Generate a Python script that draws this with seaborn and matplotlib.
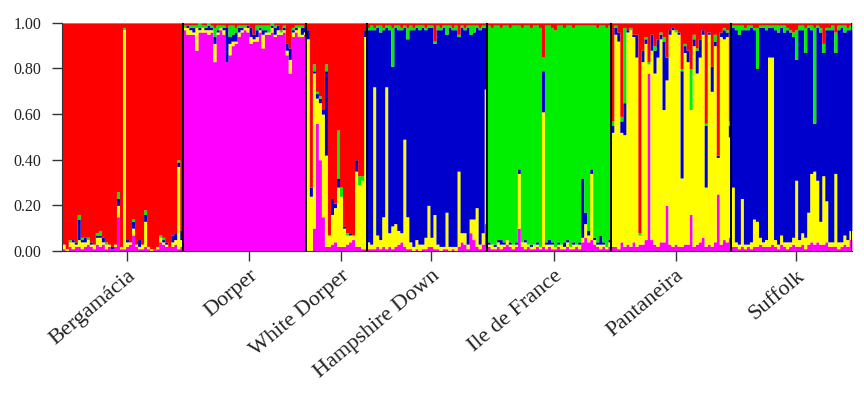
import pandas as pd
import matplotlib
matplotlib.use("Agg")
import matplotlib.pyplot as plt
import seaborn as sns

racas = ["Bergamácia", "Dorper", "White Dorper", "Hampshire Down",
         "Ile de France", "Pantaneira", "Suffolk"]

# clusters, de baixo para cima na pilha
clusters = ["magenta", "amarelo", "azul", "verde", "vermelho"]
cores = {"magenta": "#FF00FF", "amarelo": "#FFFF00", "azul": "#0000CD",
         "verde": "#00EE00", "vermelho": "#FF0000"}

# q de cada indivíduo: (magenta, amarelo, azul, verde, vermelho); None = restante
bergamacia = [
    (0.01, 0.02, 0.0, 0.0, None), (0.0, 0.01, 0.0, 0.0, None), (0.02, 0.02, 0.0, 0.01, None),
    (0.01, 0.03, 0.01, 0.0, None), (0.02, 0.01, 0.01, 0.0, None), (0.02, 0.03, 0.09, 0.02, None),
    (0.01, 0.03, 0.01, 0.01, None), (0.02, 0.02, 0.02, 0.0, None), (0.03, 0.02, 0.0, 0.01, None),
    (0.02, 0.01, 0.01, 0.0, None), (0.01, 0.02, 0.0, 0.0, None), (0.03, 0.03, 0.01, 0.01, None),
    (0.02, 0.04, 0.01, 0.02, None), (0.03, 0.01, 0.02, 0.0, None), (0.01, 0.02, 0.0, 0.01, None),
    (0.02, 0.01, 0.0, 0.0, None), (0.01, 0.0, 0.01, 0.0, None), (0.02, 0.01, 0.0, 0.0, None),
    (0.15, 0.05, 0.03, 0.03, None), (0.01, 0.01, 0.0, 0.0, None), (0.01, 0.96, 0.0, 0.01, None),
    (0.02, 0.02, 0.01, 0.0, None), (0.03, 0.01, 0.0, 0.0, None), (0.07, 0.03, 0.03, 0.01, None),
    (0.02, 0.01, 0.0, 0.0, None), (0.01, 0.01, 0.03, 0.0, None), (0.01, 0.02, 0.0, 0.0, None),
    (0.02, 0.11, 0.03, 0.02, None), (0.01, 0.01, 0.0, 0.0, None), (0.0, 0.01, 0.0, 0.0, None),
    (0.01, 0.0, 0.0, 0.0, None), (0.01, 0.01, 0.0, 0.0, None), (0.04, 0.02, 0.0, 0.01, None),
    (0.03, 0.01, 0.01, 0.01, None), (0.02, 0.01, 0.01, 0.0, None), (0.02, 0.0, 0.0, 0.0, None),
    (0.02, 0.02, 0.03, 0.0, None), (0.03, 0.02, 0.03, 0.0, None), (0.01, 0.36, 0.02, 0.01, None),
    (0.02, 0.03, 0.04, 0.0, None),
]

dorper = [
    (None, 0.01, 0.0, 0.01, 0.01), (None, 0.03, 0.01, 0.0, 0.01), (None, 0.02, 0.01, 0.01, 0.01),
    (None, 0.01, 0.02, 0.01, 0.01), (None, 0.10, 0.0, 0.01, 0.01), (None, 0.01, 0.01, 0.02, 0.0),
    (None, 0.02, 0.0, 0.01, 0.01), (None, 0.01, 0.01, 0.01, 0.01), (None, 0.02, 0.02, 0.01, 0.0),
    (None, 0.01, 0.01, 0.01, 0.01), (None, 0.08, 0.03, 0.04, 0.02), (None, 0.01, 0.01, 0.02, 0.01),
    (None, 0.01, 0.0, 0.01, 0.01), (None, 0.02, 0.01, 0.01, 0.01), (None, 0.0, 0.15, 0.0, 0.02),
    (None, 0.05, 0.03, 0.05, 0.01), (None, 0.02, 0.03, 0.04, 0.01), (None, 0.01, 0.04, 0.02, 0.02),
    (None, 0.02, 0.02, 0.01, 0.01), (None, 0.01, 0.01, 0.01, 0.01), (None, 0.01, 0.0, 0.01, 0.01),
    (None, 0.02, 0.01, 0.0, 0.01), (None, 0.03, 0.04, 0.0, 0.02), (None, 0.01, 0.02, 0.0, 0.05),
    (None, 0.02, 0.03, 0.02, 0.01), (None, 0.01, 0.01, 0.01, 0.01), (None, 0.06, 0.02, 0.02, 0.01),
    (None, 0.01, 0.01, 0.02, 0.01), (None, 0.01, 0.0, 0.03, 0.01), (None, 0.02, 0.01, 0.01, 0.0),
    (None, 0.01, 0.03, 0.01, 0.01), (None, 0.02, 0.02, 0.0, 0.01), (None, 0.01, 0.0, 0.01, 0.03),
    (None, 0.01, 0.01, 0.01, 0.01), (None, 0.02, 0.03, 0.0, 0.09), (None, 0.06, 0.05, 0.0, 0.11),
    (None, 0.02, 0.01, 0.01, 0.02), (None, 0.01, 0.01, 0.01, 0.01), (None, 0.04, 0.0, 0.01, 0.01),
    (None, 0.01, 0.03, 0.01, 0.01), (None, 0.01, 0.02, 0.0, 0.02),
]

white_dorper = [
    (0.0, 0.93, 0.04, 0.0, None), (0.0, 0.24, 0.04, 0.0, None), (0.10, 0.68, 0.01, 0.03, None),
    (0.56, 0.11, 0.02, 0.01, None), (0.40, 0.25, 0.02, 0.01, None), (0.15, 0.45, 0.02, 0.0, None),
    (0.02, 0.40, 0.37, 0.03, None), (0.02, 0.05, 0.0, 0.0, None), (0.03, 0.13, 0.07, 0.0, None),
    (0.04, 0.15, 0.02, 0.0, None), (0.02, 0.26, 0.04, 0.21, None), (0.02, 0.22, 0.0, 0.04, None),
    (0.02, 0.08, 0.01, 0.0, None), (0.03, 0.04, 0.0, 0.01, None), (0.04, 0.03, 0.01, 0.0, None),
    (0.05, 0.02, 0.0, 0.0, None), (0.02, 0.33, 0.05, 0.0, None), (0.02, 0.27, 0.0, 0.04, None),
    (0.01, 0.30, 0.0, 0.02, None), (0.01, 0.93, 0.03, 0.0, None),
]

hampshire = [
    (0.01, 0.03, None, 0.01, 0.02), (0.01, 0.02, None, 0.02, 0.01), (0.01, 0.71, None, 0.01, 0.02),
    (0.02, 0.05, None, 0.01, 0.01), (0.01, 0.04, None, 0.03, 0.01), (0.02, 0.13, None, 0.01, 0.02),
    (0.01, 0.71, None, 0.01, 0.01), (0.02, 0.06, None, 0.02, 0.01), (0.01, 0.10, None, 0.17, 0.02),
    (0.02, 0.10, None, 0.01, 0.01), (0.03, 0.06, None, 0.02, 0.01), (0.04, 0.04, None, 0.01, 0.02),
    (0.02, 0.47, None, 0.01, 0.01), (0.01, 0.14, None, 0.05, 0.02), (0.01, 0.03, None, 0.02, 0.01),
    (0.0, 0.02, None, 0.01, 0.02), (0.01, 0.04, None, 0.01, 0.01), (0.0, 0.03, None, 0.02, 0.01),
    (0.01, 0.02, None, 0.01, 0.01), (0.01, 0.05, None, 0.01, 0.02), (0.02, 0.18, None, 0.01, 0.01),
    (0.02, 0.04, None, 0.01, 0.01), (0.01, 0.15, None, 0.01, 0.08), (0.01, 0.02, None, 0.02, 0.01),
    (0.0, 0.02, None, 0.01, 0.02), (0.01, 0.01, None, 0.01, 0.01), (0.01, 0.16, None, 0.04, 0.01),
    (0.0, 0.02, None, 0.01, 0.01), (0.01, 0.01, None, 0.01, 0.02), (0.0, 0.02, None, 0.02, 0.01),
    (0.02, 0.33, None, 0.01, 0.05), (0.04, 0.04, None, 0.01, 0.01), (0.03, 0.05, None, 0.01, 0.02),
    (0.01, 0.02, None, 0.01, 0.01), (0.08, 0.06, None, 0.04, 0.01), (0.05, 0.09, None, 0.03, 0.01),
    (0.02, 0.17, None, 0.01, 0.01), (0.01, 0.02, None, 0.01, 0.02), (0.03, 0.05, None, 0.01, 0.01),
    (0.12, 0.59, None, 0.01, 0.01),
]

ile_de_france = [
    (0.02, 0.01, 0.01, None, 0.01), (0.01, 0.02, 0.0, None, 0.02), (0.01, 0.01, 0.01, None, 0.01),
    (0.02, 0.02, 0.01, None, 0.01), (0.01, 0.02, 0.02, None, 0.02), (0.02, 0.01, 0.01, None, 0.01),
    (0.03, 0.02, 0.0, None, 0.01), (0.02, 0.01, 0.01, None, 0.02), (0.01, 0.02, 0.0, None, 0.01),
    (0.02, 0.01, 0.01, None, 0.01), (0.10, 0.24, 0.02, None, 0.01), (0.02, 0.02, 0.0, None, 0.02),
    (0.01, 0.03, 0.01, None, 0.01), (0.02, 0.01, 0.0, None, 0.01), (0.01, 0.01, 0.01, None, 0.02),
    (0.01, 0.02, 0.0, None, 0.01), (0.02, 0.01, 0.01, None, 0.01), (0.01, 0.01, 0.0, None, 0.02),
    (0.02, 0.59, 0.18, None, 0.15), (0.01, 0.02, 0.01, None, 0.01), (0.02, 0.01, 0.02, None, 0.01),
    (0.01, 0.02, 0.01, None, 0.02), (0.01, 0.01, 0.0, None, 0.03), (0.02, 0.01, 0.01, None, 0.01),
    (0.01, 0.02, 0.0, None, 0.01), (0.01, 0.01, 0.02, None, 0.02), (0.02, 0.02, 0.01, None, 0.01),
    (0.01, 0.01, 0.0, None, 0.01), (0.01, 0.02, 0.01, None, 0.02), (0.02, 0.01, 0.0, None, 0.01),
    (0.01, 0.02, 0.01, None, 0.01), (0.04, 0.02, 0.26, None, 0.01), (0.06, 0.06, 0.05, None, 0.01),
    (0.04, 0.03, 0.02, None, 0.01), (0.05, 0.29, 0.02, None, 0.01), (0.03, 0.02, 0.01, None, 0.01),
    (0.02, 0.01, 0.01, None, 0.02), (0.01, 0.02, 0.04, None, 0.01), (0.02, 0.01, 0.01, None, 0.01),
    (0.01, 0.01, 0.0, None, 0.02), (0.02, 0.02, 0.01, None, 0.01),
]

pantaneira = [
    (0.02, None, 0.03, 0.02, 0.43), (0.02, None, 0.03, 0.01, 0.01), (0.01, None, 0.04, 0.0, 0.04),
    (0.04, None, 0.05, 0.02, 0.41), (0.02, None, 0.14, 0.33, 0.02), (0.03, None, 0.01, 0.0, 0.03),
    (0.02, None, 0.0, 0.01, 0.02), (0.04, None, 0.01, 0.0, 0.05), (0.02, None, 0.10, 0.0, 0.05),
    (0.03, None, 0.0, 0.01, 0.92), (0.03, None, 0.05, 0.0, 0.12), (0.05, None, 0.02, 0.01, 0.06),
    (0.78, None, 0.0, 0.01, 0.17), (0.05, None, 0.07, 0.0, 0.05), (0.03, None, 0.10, 0.02, 0.10),
    (0.02, None, 0.08, 0.0, 0.07), (0.04, None, 0.02, 0.01, 0.04), (0.04, None, 0.30, 0.02, 0.06),
    (0.20, None, 0.10, 0.0, 0.15), (0.03, None, 0.02, 0.0, 0.03), (0.02, None, 0.01, 0.0, 0.02),
    (0.03, None, 0.0, 0.01, 0.03), (0.02, None, 0.01, 0.0, 0.04), (0.02, None, 0.47, 0.01, 0.20),
    (0.03, None, 0.03, 0.01, 0.09), (0.03, None, 0.05, 0.0, 0.12), (0.16, None, 0.0, 0.18, 0.20),
    (0.02, None, 0.03, 0.02, 0.05), (0.03, None, 0.10, 0.01, 0.11), (0.04, None, 0.08, 0.0, 0.07),
    (0.06, None, 0.02, 0.0, 0.03), (0.02, None, 0.27, 0.01, 0.44), (0.03, None, 0.01, 0.0, 0.04),
    (0.02, None, 0.11, 0.0, 0.19), (0.04, None, 0.02, 0.03, 0.05), (0.25, None, 0.01, 0.0, 0.58),
    (0.03, None, 0.02, 0.0, 0.04), (0.05, None, 0.04, 0.01, 0.02), (0.04, None, 0.02, 0.01, 0.03),
    (0.06, None, 0.05, 0.02, 0.43),
]

suffolk = [
    (0.02, 0.26, None, 0.01, 0.01), (0.02, 0.02, None, 0.02, 0.01), (0.01, 0.02, None, 0.04, 0.01),
    (0.02, 0.21, None, 0.02, 0.01), (0.01, 0.02, None, 0.01, 0.02), (0.02, 0.01, None, 0.02, 0.01),
    (0.01, 0.03, None, 0.01, 0.01), (0.02, 0.12, None, 0.01, 0.02), (0.02, 0.11, None, 0.18, 0.02),
    (0.03, 0.03, None, 0.01, 0.01), (0.02, 0.02, None, 0.01, 0.01), (0.02, 0.03, None, 0.02, 0.01),
    (0.02, 0.83, None, 0.01, 0.01), (0.03, 0.82, None, 0.01, 0.01), (0.02, 0.03, None, 0.02, 0.01),
    (0.01, 0.02, None, 0.03, 0.01), (0.03, 0.04, None, 0.01, 0.01), (0.02, 0.02, None, 0.03, 0.01),
    (0.01, 0.03, None, 0.01, 0.02), (0.02, 0.02, None, 0.01, 0.03), (0.03, 0.03, None, 0.02, 0.04),
    (0.02, 0.29, None, 0.13, 0.03), (0.02, 0.03, None, 0.02, 0.01), (0.03, 0.05, None, 0.02, 0.01),
    (0.01, 0.05, None, 0.11, 0.02), (0.03, 0.14, None, 0.01, 0.01), (0.04, 0.30, None, 0.02, 0.01),
    (0.03, 0.32, None, 0.42, 0.02), (0.04, 0.27, None, 0.01, 0.01), (0.03, 0.10, None, 0.02, 0.02),
    (0.03, 0.30, None, 0.04, 0.09), (0.04, 0.18, None, 0.01, 0.02), (0.02, 0.02, None, 0.01, 0.02),
    (0.02, 0.02, None, 0.02, 0.01), (0.02, 0.32, None, 0.09, 0.04), (0.01, 0.03, None, 0.02, 0.01),
    (0.02, 0.02, None, 0.01, 0.01), (0.03, 0.04, None, 0.03, 0.01), (0.02, 0.03, None, 0.01, 0.02),
    (0.05, 0.04, None, 0.02, 0.01),
]

grupos = [bergamacia, dorper, white_dorper, hampshire, ile_de_france, pantaneira, suffolk]

# tabela longa: um registro por indivíduo e cluster
linhas = []
ind = 0
for raca, grupo in zip(racas, grupos):
    for q in grupo:
        resto = 1 - sum(v for v in q if v is not None)
        for k, v in zip(clusters, q):
            linhas.append({"ind": ind, "raca": raca, "cluster": k,
                           "q": resto if v is None else v})
        ind += 1
dados = pd.DataFrame(linhas)
n_total = ind

tamanhos = [len(g) for g in grupos]
inicios = [sum(tamanhos[:i]) for i in range(len(tamanhos))]
centros = [ini + (t - 1) / 2 + 1.5 for ini, t in zip(inicios, tamanhos)]

sns.set_style("ticks")
plt.rcParams["font.family"] = ["Liberation Serif", "DejaVu Serif"]

fig, ax = plt.subplots(figsize=(8.64, 3.94), dpi=100)
fig.subplots_adjust(left=0.072, right=0.986, bottom=0.363, top=0.942)

# histplot empilha o primeiro nível do hue no topo
sns.histplot(data=dados, x="ind", weights="q", hue="cluster",
             hue_order=clusters[::-1], palette=cores, multiple="stack",
             discrete=True, element="step", alpha=1, linewidth=0,
             legend=False, ax=ax)

for ini in inicios[1:] + [n_total]:
    ax.axvline(ini - 0.5, color="black", linewidth=1.4)

ax.set_xlim(-0.5, n_total - 0.5)
ax.set_ylim(0, 1)
ax.set_yticks([0, 0.2, 0.4, 0.6, 0.8, 1.0])
ax.set_yticklabels([f"{v:.2f}" for v in [0, 0.2, 0.4, 0.6, 0.8, 1.0]],
                   fontsize=11.5, color="#222222")
ax.set_xticks(centros)
ax.set_xticklabels(racas, rotation=40, ha="right", va="top",
                   rotation_mode="anchor", fontsize=16, color="#222222")
ax.tick_params(axis="both", length=7, width=1, color="#333333")
ax.tick_params(axis="y", pad=8)
ax.tick_params(axis="x", pad=4)
ax.set_xlabel("")
ax.set_ylabel("")
for lado in ["top", "right"]:
    ax.spines[lado].set_visible(False)
ax.spines["left"].set_color("#333333")
ax.spines["bottom"].set_color("#333333")

fig.savefig("out.png", dpi=100)
